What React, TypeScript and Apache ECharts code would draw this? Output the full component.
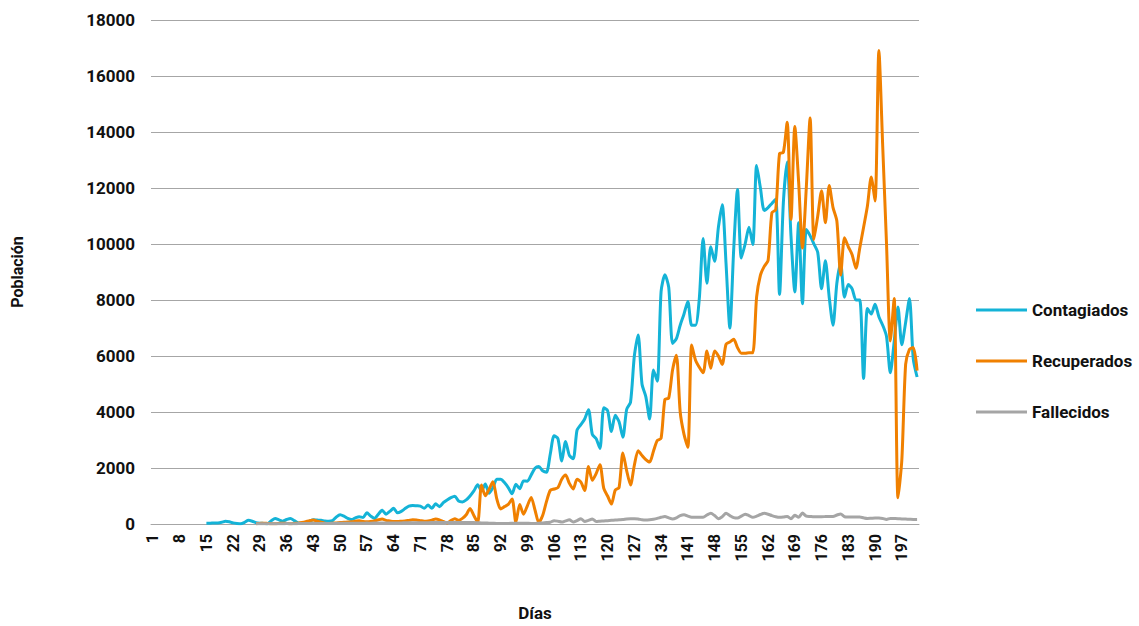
import React, { useEffect, useRef } from "react";
import * as echarts from "echarts";

const days: string[] = [];
for (let d = 1; d <= 201; d++) days.push(String(d));

const contagiadosStart = 15;
const contagiadosValues = [
  30, 30, 40, 40, 60, 100, 80, 40, 20, 10, 60, 130, 100, 50, 30, 20, 10, 120, 200, 150,
  100, 160, 200, 120, 40, 20, 50, 100, 150, 140, 130, 110, 100, 120, 250, 330, 280, 200, 160, 220,
  260, 230, 400, 280, 200, 350, 490, 350, 450, 560, 400, 450, 550, 640, 660, 650, 640, 560, 680, 560,
  720, 620, 760, 860, 940, 990, 820, 790, 860, 1000, 1180, 1400, 1180, 1430, 1100, 1300, 1600, 1600, 1480, 1300,
  1080, 1420, 1260, 1540, 1530, 1750, 1990, 2050, 1900, 1850, 2500, 3150, 3050, 2250, 2950, 2450, 2330, 3350, 3550, 3750,
  4080, 3200, 3050, 2700, 4150, 4050, 3300, 3880, 3650, 3100, 4100, 4350, 6000, 6750, 5000, 4550, 3750, 5500, 5100, 8300,
  8900, 8450, 6450, 6620, 7100, 7500, 7950, 7100, 7100, 8050, 10200, 8600, 9900, 9380, 10600, 11400, 9300, 7000, 9800, 11950,
  9500, 10000, 10600, 9980, 12800, 12000, 11200, 11300, 11450, 11600, 8200, 11480, 12930, 10280, 8290, 10760, 7870, 10520, 10300, 10000,
  9700, 8400, 9400, 8100, 7100, 8600, 9300, 8100, 8550, 8400, 8000, 8000, 5200, 7700, 7500, 7850, 7400, 7100, 6700, 5400,
  6500, 7750, 6400, 7200, 8050, 5900, 5250,
];

const recuperadosStart = 28;
const recuperadosValues = [
  10, 20, 30, 20, 10, 10, 20, 30, 20, 10, 20, 30, 50, 80, 120, 140, 100, 60, 30, 20,
  30, 40, 50, 60, 70, 80, 100, 120, 90, 80, 90, 110, 150, 180, 130, 110, 90, 90, 100, 110,
  130, 150, 140, 120, 100, 110, 140, 180, 150, 90, 40, 120, 190, 130, 200, 330, 550, 300, 60, 1390,
  1010, 1250, 1510, 900, 540, 620, 700, 890, 60, 700, 350, 650, 950, 500, 50, 300, 800, 1200, 1250, 1300,
  1600, 1750, 1450, 1250, 1600, 1500, 1200, 2050, 1560, 1800, 2120, 1270, 1000, 710, 1210, 1300, 2540, 1900, 1390, 2100,
  2620, 2450, 2300, 2210, 2600, 2980, 3060, 4450, 4500, 5500, 6030, 4000, 3200, 2740, 6390, 5860, 5600, 5400, 6180, 5560,
  6180, 6000, 5700, 6420, 6500, 6600, 6300, 6100, 6100, 6120, 6120, 8110, 8890, 9200, 9410, 11120, 11220, 13230, 13270, 14350,
  10880, 14200, 12210, 9860, 12000, 14500, 10160, 11000, 11900, 10760, 12090, 11300, 10820, 8890, 10220, 9900, 9620, 9130, 9860, 10600,
  11360, 12390, 11540, 16910, 13500, 10000, 6540, 8050, 940, 2270, 5700, 6240, 6300, 5480, 7870,
];

const fallecidosStart = 28;
const fallecidosValues = [
  5, 8, 10, 8, 10, 12, 10, 12, 15, 12, 10, 15, 18, 15, 15, 18, 20, 18, 20, 22,
  20, 22, 25, 25, 28, 25, 28, 30, 30, 32, 30, 32, 35, 35, 38, 35, 38, 40, 40, 42,
  42, 45, 45, 48, 45, 48, 50, 50, 52, 50, 55, 55, 52, 55, 58, 55, 55, 50, 45, 40,
  35, 30, 25, 20, 20, 20, 20, 25, 30, 30, 30, 25, 20, 20, 30, 40, 50, 60, 120, 100,
  70, 110, 150, 70, 120, 190, 90, 130, 180, 90, 100, 110, 120, 130, 140, 150, 160, 180, 190, 190,
  180, 150, 140, 150, 170, 200, 240, 270, 220, 180, 220, 300, 330, 280, 240, 240, 240, 240, 320, 380,
  300, 190, 260, 380, 300, 230, 210, 280, 350, 300, 240, 280, 340, 380, 350, 300, 260, 240, 250, 270,
  190, 310, 240, 390, 280, 270, 260, 260, 260, 265, 270, 270, 320, 360, 260, 250, 250, 250, 250, 220,
  200, 205, 210, 210, 200, 165, 200, 195, 190, 180, 175, 170, 165, 165,
];

function pad(start: number, values: number[]): (number | null)[] {
  const out: (number | null)[] = [];
  for (let i = 1; i < start; i++) out.push(null);
  for (const v of values) out.push(v);
  return out.slice(0, days.length);
}

const yTicks = { min: 0, max: 18000, interval: 2000 };

const FONT = "Roboto, 'Liberation Sans', sans-serif";

export default function App() {
  const ref = useRef<HTMLDivElement>(null);
  useEffect(() => {
    if (!ref.current) return;
    const chart = echarts.init(ref.current, undefined, { renderer: "svg" });
    const lineSeries = (name: string, color: string, data: (number | null)[]) => ({
      name,
      type: "line",
      data,
      symbol: "none",
      showSymbol: false,
      smooth: 0.25,
      connectNulls: false,
      lineStyle: { color, width: 3 },
      itemStyle: { color },
    });
    chart.setOption({
      animation: false,
      backgroundColor: "#ffffff",
      textStyle: { fontFamily: FONT },
      grid: { left: 151, right: 220, top: 20, bottom: 93, containLabel: false },
      legend: {
        orient: "vertical",
        left: 971,
        top: 295,
        icon: "rect",
        itemWidth: 51,
        itemHeight: 3,
        itemGap: 31,
        textStyle: { fontFamily: FONT, fontWeight: "bold", fontSize: 17, color: "#111", lineHeight: 20 },
        data: ["Contagiados", "Recuperados", "Fallecidos"],
      },
      xAxis: {
        type: "category",
        data: days,
        boundaryGap: true,
        name: "Días",
        nameLocation: "middle",
        nameGap: 80,
        nameTextStyle: { fontFamily: FONT, fontWeight: "bold", fontSize: 17, color: "#111" },
        axisLine: { show: true, lineStyle: { color: "#a6a6a6", width: 1 } },
        axisTick: { show: false },
        axisLabel: {
          interval: 6,
          rotate: 90,
          margin: 10,
          fontFamily: FONT,
          fontWeight: "bold",
          fontSize: 16,
          color: "#111",
        },
      },
      yAxis: {
        type: "value",
        min: yTicks.min,
        max: yTicks.max,
        interval: yTicks.interval,
        name: "Población",
        nameLocation: "middle",
        nameGap: 126,
        nameRotate: 90,
        nameTextStyle: { fontFamily: FONT, fontWeight: "bold", fontSize: 16, color: "#111" },
        axisLine: { show: false },
        axisTick: { show: false },
        axisLabel: {
          margin: 16,
          fontFamily: FONT,
          fontWeight: "bold",
          fontSize: 17,
          color: "#111",
          formatter: (v: number) => String(v),
        },
        splitLine: { lineStyle: { color: "#a6a6a6", width: 1 } },
      },
      series: [
        lineSeries("Contagiados", "#14b3d7", pad(contagiadosStart, contagiadosValues)),
        lineSeries("Recuperados", "#f08000", pad(recuperadosStart, recuperadosValues)),
        lineSeries("Fallecidos", "#a5a5a5", pad(fallecidosStart, fallecidosValues)),
      ],
    });
    return () => chart.dispose();
  }, []);
  return (
    <div
      ref={ref}
      style={{ position: "fixed", left: 0, top: 0, width: 1139, height: 626, background: "#fff" }}
    />
  );
}
